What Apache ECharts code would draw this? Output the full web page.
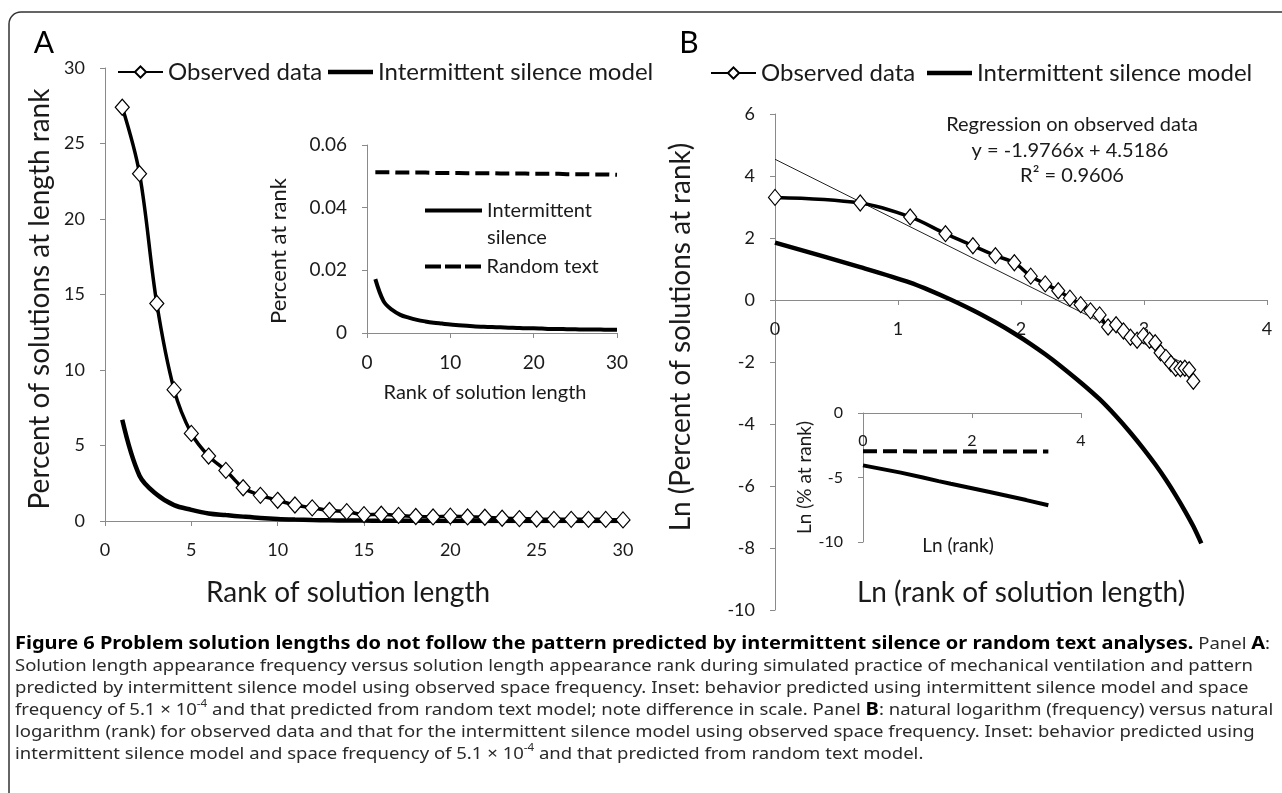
<!DOCTYPE html>
<html><head><meta charset="utf-8">
<script src="https://cdn.jsdelivr.net/npm/echarts@6/dist/echarts.min.js"></script>
<style>html,body{margin:0;padding:0;background:#fff}#c{width:1282px;height:793px}</style>
</head><body><div id="c"></div>
<script>
// ---------- Panel A data ----------
const ranks = [1,2,3,4,5,6,7,8,9,10,11,12,13,14,15,16,17,18,19,20,21,22,23,24,25,26,27,28,29,30];
const observedPct = [27.4,23.0,14.4,8.7,5.8,4.3,3.35,2.2,1.7,1.37,1.06,0.87,0.70,0.62,0.42,0.45,0.37,0.30,0.27,0.32,0.27,0.25,0.18,0.16,0.13,0.11,0.11,0.11,0.105,0.073];
const modelPct = [6.7,3.0,1.75,1.05,0.74,0.5,0.39,0.29,0.2,0.135,0.095,0.067,0.048,0.035,0.026,0.019,0.015,0.011,0.0085,0.0067,0.0053,0.0041,0.0032,0.0025,0.002,0.0016,0.0012,0.001,0.0008,0.0006];
const insetModelPct = [0.0172,0.0101,0.0074,0.0058,0.0049,0.0042,0.0037,0.0033,0.003,0.0027,0.0025,0.0023,0.0021,0.002,0.0019,0.0018,0.0017,0.0016,0.0015,0.0015,0.0014,0.0013,0.0013,0.0012,0.0012,0.0011,0.0011,0.0011,0.001,0.001];
const insetRandomPct = [0.0513,0.0513,0.0513,0.0512,0.0512,0.0512,0.0512,0.0511,0.0511,0.0511,0.0511,0.051,0.051,0.051,0.051,0.0509,0.0509,0.0509,0.0509,0.0508,0.0508,0.0508,0.0508,0.0507,0.0507,0.0507,0.0506,0.0506,0.0506,0.0505];
// ---------- Panel B data ----------
const lnRank = [0,0.693,1.099,1.386,1.609,1.792,1.946,2.079,2.197,2.303,2.398,2.485,2.565,2.639,2.708,2.773,2.833,2.890,2.944,2.996,3.045,3.091,3.135,3.178,3.219,3.258,3.296,3.332,3.367,3.401];
const lnObserved = [3.31,3.13,2.68,2.14,1.75,1.43,1.20,0.77,0.52,0.30,0.06,-0.15,-0.35,-0.48,-0.87,-0.80,-1.0,-1.2,-1.3,-1.15,-1.3,-1.38,-1.7,-1.85,-2.05,-2.2,-2.22,-2.2,-2.25,-2.62];
const lnModelX = [0,0.693,1.099,1.386,1.609,1.792,1.946,2.079,2.197,2.303,2.485,2.639,2.773,2.890,2.996,3.091,3.178,3.258,3.332,3.401,3.466];
const lnModelY = [1.85,1.06,0.56,0.09,-0.33,-0.72,-1.08,-1.42,-1.75,-2.07,-2.66,-3.2,-3.75,-4.28,-4.8,-5.3,-5.8,-6.3,-6.8,-7.3,-7.85];
const regressionX = [0,3.401];
const regressionY = [4.54,-2.2];
const insetLnX = [0,0.693,1.099,1.386,1.609,2.303,2.996,3.401];
const insetLnModelY = [-4.06,-4.62,-5.0,-5.28,-5.48,-6.1,-6.75,-7.15];
const insetLnRandomX = [0,3.401];
const insetLnRandomY = [-2.97,-2.99];

const captionBold1 = 'Figure 6 Problem solution lengths do not follow the pattern predicted by intermittent silence or random text analyses.';
const captionLines = [
  '{b|' + captionBold1 + '} Panel {b|A}:',
  'Solution length appearance frequency versus solution length appearance rank during simulated practice of mechanical ventilation and pattern',
  'predicted by intermittent silence model using observed space frequency. Inset: behavior predicted using intermittent silence model and space',
  'frequency of 5.1 × 10{sup|-4} and that predicted from random text model; note difference in scale. Panel {b|B}: natural logarithm (frequency) versus natural',
  'logarithm (rank) for observed data and that for the intermittent silence model using observed space frequency. Inset: behavior predicted using',
  'intermittent silence model and space frequency of 5.1 × 10{sup|-4} and that predicted from random text model.'
];

const zip = (xs, ys) => xs.map((x, i) => [x, ys[i]]);

const FONT = 'Lato';
const CAPFONT = 'Noto Sans';
const AX = '#8a8a8a';
const TXT = '#1a1a1a';

// caption: fixed glyph size, horizontally stretched to the reference line widths
const capSize = 16;
const mctx = document.createElement('canvas').getContext('2d');
mctx.font = capSize + 'px "' + CAPFONT + '"';
const capW = mctx.measureText(captionLines[1]).width;
const capScale = 1238 / capW;
const regW = mctx.measureText(' Panel :').width;
mctx.font = 'bold ' + capSize + 'px "' + CAPFONT + '"';
const boldW = mctx.measureText(captionBold1 + 'A').width;
const capBoldSize = Math.round(capSize * (1254 / capScale - regW) / boldW * 10) / 10;

function axis(extra, labelSize) {
  return Object.assign({
    type: 'value',
    splitLine: {show: false},
    axisLine: {show: true, onZero: false, lineStyle: {color: AX, width: 1}},
    axisTick: {show: true, length: 5, lineStyle: {color: AX, width: 1}},
    axisLabel: {color: TXT, fontFamily: FONT, fontSize: labelSize, margin: 20}
  }, extra);
}
function nameStyle(size, padding) {
  return {color: TXT, fontFamily: FONT, fontSize: size, padding: padding || 0};
}

const obsStyle = {
  type: 'line', smooth: 0.35, symbol: 'diamond', symbolSize: [14, 16], showSymbol: true,
  itemStyle: {color: '#fff', borderColor: '#000', borderWidth: 1.2},
  lineStyle: {color: '#000', width: 3.5}, z: 4
};
const modelStyle = {
  type: 'line', smooth: 0.35, symbol: 'none',
  itemStyle: {color: '#000'}, lineStyle: {color: '#000', width: 4.5}, z: 3
};
const legendText = {fontSize: 24, color: TXT, fontFamily: FONT};
const dashIcon = 'path://M0,0h16v4h-16zM20,0h16v4h-16zM40,0h16v4h-16z';

const gridB = {left: 775, top: 114, width: 492, height: 496};
const gridBi = {left: 863, top: 413, width: 218, height: 129};

const chart = echarts.init(document.getElementById('c'), null, {renderer: 'canvas'});
chart.setOption({
  animation: false,
  backgroundColor: '#fff',
  textStyle: {fontFamily: FONT},
  grid: [
    {left: 105, top: 68, width: 518, height: 453, outerBoundsMode: 'none', containLabel: false},
    {left: 367, top: 145, width: 250, height: 188, outerBoundsMode: 'none', containLabel: false},
    Object.assign({outerBoundsMode: 'none', containLabel: false}, gridB),
    Object.assign({outerBoundsMode: 'none', containLabel: false}, gridBi)
  ],
  xAxis: [
    axis({gridIndex: 0, min: 0, max: 30, interval: 5, name: 'Rank of solution length', nameLocation: 'middle', nameGap: 58, nameTextStyle: nameStyle(28, [0, 32, 0, 0])}, 18),
    axis({gridIndex: 1, min: 0, max: 30, interval: 10, name: 'Rank of solution length', nameLocation: 'middle', nameGap: 50, nameTextStyle: nameStyle(20, [0, 14, 0, 0])}, 19),
    // axis drawn through y = 0 (offset from the bottom of the grid by the share of the range below zero)
    axis({gridIndex: 2, min: 0, max: 4, interval: 1, offset: -gridB.height * 10 / 16, name: 'Ln (rank of solution length)', nameLocation: 'middle', nameGap: 279, nameTextStyle: nameStyle(28)}, 18),
    axis({gridIndex: 3, min: 0, max: 4, interval: 2, offset: -gridBi.height, name: 'Ln (rank)', nameLocation: 'middle', nameGap: 123, nameTextStyle: nameStyle(19, [0, 28, 0, 0])}, 16)
  ],
  yAxis: [
    axis({gridIndex: 0, min: 0, max: 30, interval: 5, name: 'Percent of solutions at length rank', nameLocation: 'middle', nameGap: 51, nameTextStyle: nameStyle(28, [0, 9, 0, 0])}, 18),
    axis({gridIndex: 1, min: 0, max: 0.06, interval: 0.02, name: 'Percent at rank', nameLocation: 'middle', nameGap: 77, nameTextStyle: nameStyle(22, [0, 24, 0, 0])}, 19),
    axis({gridIndex: 2, min: -10, max: 6, interval: 2, name: 'Ln (Percent of solutions at rank)', nameLocation: 'middle', nameGap: 80, nameTextStyle: nameStyle(28, [0, 0, 0, 50])}, 18),
    axis({gridIndex: 3, min: -10, max: 0, interval: 5, name: 'Ln (% at rank)', nameLocation: 'middle', nameGap: 44, nameTextStyle: nameStyle(19)}, 16)
  ],
  legend: [
    {data: ['Observed data'], left: 117, top: 60, padding: 0, itemWidth: 45, itemHeight: 14, selectedMode: false, textStyle: legendText},
    {data: [{name: 'Intermittent silence model', icon: 'rect'}], left: 328, top: 60, padding: 0, itemWidth: 45, itemHeight: 4.5, selectedMode: false, textStyle: legendText},
    {data: ['Observed data'], left: 710, top: 61, padding: 0, itemWidth: 45, itemHeight: 14, selectedMode: false, textStyle: legendText},
    {data: [{name: 'Intermittent silence model', icon: 'rect'}], left: 927, top: 61, padding: 0, itemWidth: 45, itemHeight: 4.5, selectedMode: false, textStyle: legendText},
    {data: [{name: 'Intermittent silence', icon: 'rect'}], left: 425, top: 170, padding: 0, itemWidth: 57, itemHeight: 4, selectedMode: false,
     formatter: () => ' \nIntermittent\nsilence',
     textStyle: {fontSize: 20, lineHeight: 27, color: TXT, fontFamily: FONT}},
    {data: [{name: 'Random text', icon: dashIcon}], left: 425, top: 253, padding: 0, itemWidth: 57, itemHeight: 4, selectedMode: false,
     textStyle: {fontSize: 20, lineHeight: 27, color: TXT, fontFamily: FONT}}
  ],
  series: [
    Object.assign({}, modelStyle, {name: 'Intermittent silence model', xAxisIndex: 0, yAxisIndex: 0, data: zip(ranks, modelPct)}),
    Object.assign({}, obsStyle, {name: 'Observed data', xAxisIndex: 0, yAxisIndex: 0, data: zip(ranks, observedPct)}),
    {type: 'line', name: 'Intermittent silence', xAxisIndex: 1, yAxisIndex: 1, smooth: 0.35, symbol: 'none',
     itemStyle: {color: '#000'}, lineStyle: {color: '#000', width: 4}, data: zip(ranks, insetModelPct)},
    {type: 'line', name: 'Random text', xAxisIndex: 1, yAxisIndex: 1, symbol: 'none',
     itemStyle: {color: '#000'}, lineStyle: {color: '#000', width: 4, type: [14, 6]}, data: zip(ranks, insetRandomPct)},
    {type: 'line', name: 'Regression on observed data', xAxisIndex: 2, yAxisIndex: 2, symbol: 'none', z: 2,
     itemStyle: {color: '#222'}, lineStyle: {color: '#222', width: 1}, data: zip(regressionX, regressionY)},
    Object.assign({}, modelStyle, {name: 'Intermittent silence model', xAxisIndex: 2, yAxisIndex: 2, smooth: 0.3, data: zip(lnModelX, lnModelY)}),
    Object.assign({}, obsStyle, {name: 'Observed data', xAxisIndex: 2, yAxisIndex: 2, symbolSize: [13, 16], data: zip(lnRank, lnObserved)}),
    {type: 'line', name: 'Random text', xAxisIndex: 3, yAxisIndex: 3, symbol: 'none',
     itemStyle: {color: '#000'}, lineStyle: {color: '#000', width: 4, type: [14, 6]}, data: zip(insetLnRandomX, insetLnRandomY)},
    {type: 'line', name: 'Intermittent silence', xAxisIndex: 3, yAxisIndex: 3, symbol: 'none',
     itemStyle: {color: '#000'}, lineStyle: {color: '#000', width: 4}, data: zip(insetLnX, insetLnModelY)}
  ],
  graphic: [
    {type: 'rect', shape: {x: 9, y: 12, width: 1300, height: 800, r: 12}, style: {fill: 'none', stroke: '#333', lineWidth: 1.5}, silent: true},
    {type: 'text', x: 44, y: 43, style: {text: 'A', fontSize: 30, fontFamily: FONT, fill: '#000', align: 'center', verticalAlign: 'middle'}},
    {type: 'text', x: 689, y: 43, style: {text: 'B', fontSize: 30, fontFamily: FONT, fill: '#000', align: 'center', verticalAlign: 'middle'}},
    {type: 'text', x: 1072, y: 125, style: {text: 'Regression on observed data', fontSize: 20, fontFamily: FONT, fill: TXT, align: 'center', verticalAlign: 'middle'}},
    {type: 'text', x: 1070, y: 151, style: {text: 'y = -1.9766x + 4.5186', fontSize: 20, fontFamily: FONT, fill: TXT, align: 'center', verticalAlign: 'middle'}},
    {type: 'text', x: 1072, y: 176, style: {text: 'R² = 0.9606', fontSize: 20, fontFamily: FONT, fill: TXT, align: 'center', verticalAlign: 'middle'}},
    {type: 'text', x: 15, y: 633, scaleX: capScale, scaleY: 1, style: {
      text: captionLines.join('\n'),
      fontSize: capSize, fontFamily: CAPFONT, fill: '#2a2a2a', lineHeight: 22,
      rich: {
        b: {fontWeight: 'bold', fontSize: capBoldSize, fontFamily: CAPFONT, fill: '#000', lineHeight: 22},
        sup: {fontSize: 10, fontFamily: CAPFONT, fill: '#2a2a2a', verticalAlign: 'top', lineHeight: 22}
      }
    }}
  ]
});
</script></body></html>
